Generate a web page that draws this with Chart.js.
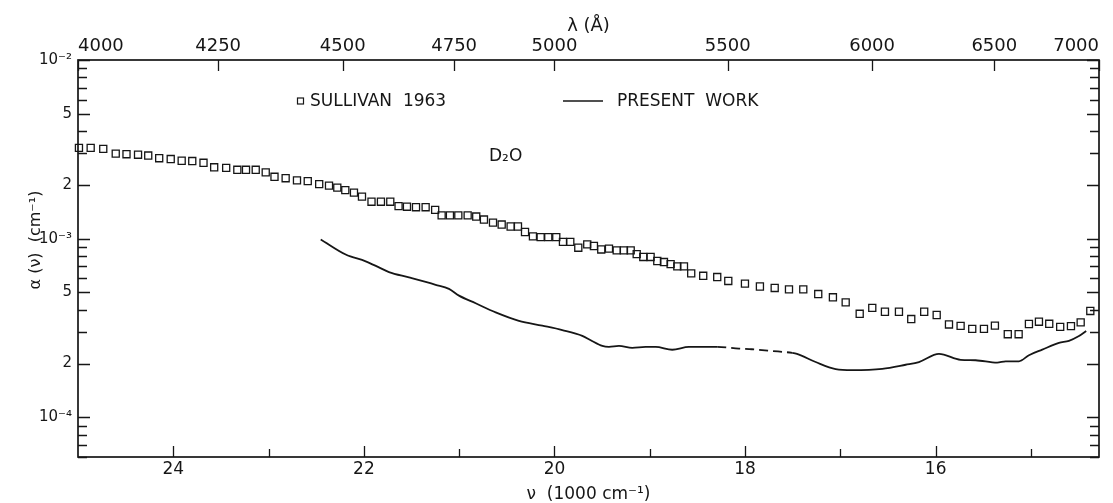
<!DOCTYPE html>
<html>
<head>
<meta charset="utf-8">
<title>D2O absorption coefficient</title>
<script src="https://cdn.jsdelivr.net/npm/chart.js@4.4.1/dist/chart.umd.min.js"></script>
<style>
  html, body { margin: 0; padding: 0; background: #fff; }
  canvas { display: block; }
</style>
</head>
<body>
<canvas id="chart" width="1113" height="503"></canvas>
<script>
// Sullivan (1963): wavenumber (1000 cm^-1) and absorption coefficient (cm^-1)
const sullivanNu = [
  24.99, 24.867, 24.735, 24.604, 24.491, 24.370, 24.263, 24.148, 24.027, 23.912,
  23.801, 23.683, 23.571, 23.445, 23.328, 23.237, 23.135, 23.030, 22.938, 22.821,
  22.702, 22.589, 22.469, 22.366, 22.279, 22.195, 22.104, 22.020, 21.920, 21.821,
  21.723, 21.636, 21.548, 21.453, 21.352, 21.252, 21.184, 21.097, 21.009, 20.911,
  20.821, 20.740, 20.645, 20.554, 20.460, 20.383, 20.309, 20.226, 20.145, 20.065,
  19.981, 19.911, 19.834, 19.750, 19.656, 19.586, 19.509, 19.428, 19.347, 19.271,
  19.200, 19.137, 19.068, 18.991, 18.921, 18.851, 18.781, 18.711, 18.641, 18.565,
  18.439, 18.292, 18.176, 18.001, 17.844, 17.689, 17.539, 17.389, 17.232, 17.078,
  16.944, 16.797, 16.665, 16.532, 16.385, 16.256, 16.120, 15.989, 15.860, 15.738,
  15.616, 15.493, 15.378, 15.243, 15.129, 15.021, 14.916, 14.808, 14.693, 14.580,
  14.478, 14.377
];
const sullivanAlpha = [
  3.22e-3, 3.22e-3, 3.18e-3, 2.99e-3, 2.97e-3, 2.95e-3, 2.92e-3, 2.82e-3, 2.79e-3, 2.73e-3,
  2.72e-3, 2.66e-3, 2.51e-3, 2.49e-3, 2.43e-3, 2.43e-3, 2.43e-3, 2.35e-3, 2.22e-3, 2.18e-3,
  2.12e-3, 2.10e-3, 2.02e-3, 1.98e-3, 1.93e-3, 1.87e-3, 1.81e-3, 1.72e-3, 1.61e-3, 1.61e-3,
  1.61e-3, 1.52e-3, 1.51e-3, 1.50e-3, 1.50e-3, 1.45e-3, 1.35e-3, 1.35e-3, 1.35e-3, 1.35e-3,
  1.33e-3, 1.28e-3, 1.23e-3, 1.20e-3, 1.17e-3, 1.17e-3, 1.09e-3, 1.03e-3, 1.02e-3, 1.02e-3,
  1.02e-3, 0.96e-3, 0.96e-3, 0.89e-3, 0.93e-3, 0.91e-3, 0.87e-3, 0.88e-3, 0.86e-3, 0.86e-3,
  0.86e-3, 0.82e-3, 0.79e-3, 0.79e-3, 0.75e-3, 0.74e-3, 0.72e-3, 0.70e-3, 0.70e-3, 0.64e-3,
  0.62e-3, 0.61e-3, 0.58e-3, 0.56e-3, 0.54e-3, 0.53e-3, 0.52e-3, 0.52e-3, 0.49e-3, 0.47e-3,
  0.44e-3, 0.38e-3, 0.41e-3, 0.39e-3, 0.39e-3, 0.355e-3, 0.39e-3, 0.374e-3, 0.331e-3, 0.325e-3,
  0.313e-3, 0.313e-3, 0.326e-3, 0.292e-3, 0.292e-3, 0.333e-3, 0.343e-3, 0.334e-3, 0.321e-3, 0.324e-3,
  0.340e-3, 0.394e-3
];

// Present measurement
const presentNu = [
  22.453, 22.191, 21.981, 21.842, 21.737, 21.527, 21.247, 21.107, 21.002, 20.827,
  20.617, 20.373, 20.128, 19.918, 19.708, 19.620, 19.498, 19.428, 19.323, 19.184,
  19.043, 18.938, 18.764, 18.589, 18.292, 18.064, 17.928, 17.718, 17.505, 17.455,
  17.259, 17.049, 16.875, 16.560, 16.315, 16.175, 15.965, 15.738, 15.580, 15.354,
  15.265, 15.126, 15.021, 14.881, 14.706, 14.601, 14.496, 14.420
];
const presentAlpha = [
  0.990e-3, 0.815e-3, 0.747e-3, 0.691e-3, 0.650e-3, 0.607e-3, 0.552e-3, 0.524e-3, 0.480e-3, 0.435e-3,
  0.387e-3, 0.347e-3, 0.326e-3, 0.308e-3, 0.286e-3, 0.270e-3, 0.251e-3, 0.248e-3, 0.251e-3, 0.245e-3,
  0.248e-3, 0.248e-3, 0.239e-3, 0.248e-3, 0.248e-3, 0.2425e-3, 0.2406e-3, 0.2353e-3, 0.2294e-3, 0.2265e-3,
  0.204e-3, 0.1864e-3, 0.184e-3, 0.187e-3, 0.197e-3, 0.204e-3, 0.2265e-3, 0.210e-3, 0.2087e-3, 0.2023e-3,
  0.206e-3, 0.206e-3, 0.2227e-3, 0.2394e-3, 0.261e-3, 0.268e-3, 0.285e-3, 0.304e-3
];
// Wavenumber interval (1000 cm^-1) where the measured curve is bridged with a dashed line
const dashedSpan = [18.3, 17.5];

// Axis ticks; wavelength (Å) maps to wavenumber (1000 cm^-1) as 1e5 / λ
const nuTicks = [15, 16, 17, 18, 19, 20, 21, 22, 23, 24];
const nuLabelled = [24, 22, 20, 18, 16];
const lambdaTicks = [4000, 4250, 4500, 4750, 5000, 5500, 6000, 6500, 7000];
const alphaTicks = [
  6e-5, 7e-5, 8e-5, 9e-5,
  1e-4, 2e-4, 3e-4, 4e-4, 5e-4, 6e-4, 7e-4, 8e-4, 9e-4,
  1e-3, 2e-3, 3e-3, 4e-3, 5e-3, 6e-3, 7e-3, 8e-3, 9e-3,
  1e-2
];
const alphaLabelValues = [1e-2, 5e-3, 2e-3, 1e-3, 5e-4, 2e-4, 1e-4];
const alphaLabelText = ['10⁻²', '5', '2', '10⁻³', '5', '2', '10⁻⁴'];

const NU_MIN = 1e5 / 7000;
const NU_MAX = 25;
const INK = '#161616';
const FONT = "'DejaVu Sans', 'Liberation Sans', sans-serif";
Chart.defaults.font.family = FONT;
Chart.defaults.color = INK;

const sullivanPoints = sullivanNu.map((x, i) => ({ x, y: sullivanAlpha[i] }));
const presentPoints = presentNu.map((x, i) => ({ x, y: presentAlpha[i] }));

const inDashedSpan = ctx =>
  ctx.p0.parsed.x <= dashedSpan[0] && ctx.p1.parsed.x >= dashedSpan[1];

// White page, boxed frame with inward tick marks, legend and sample label
const framePlugin = {
  id: 'frameAndLegend',
  beforeDraw(chart) {
    const { ctx, width, height } = chart;
    ctx.save();
    ctx.fillStyle = '#fff';
    ctx.fillRect(0, 0, width, height);
    ctx.restore();
  },
  afterDraw(chart) {
    const { ctx, chartArea: a, scales } = chart;
    ctx.save();
    ctx.strokeStyle = INK;
    ctx.fillStyle = INK;

    ctx.lineWidth = 1.7;
    ctx.strokeRect(a.left, a.top, a.right - a.left, a.bottom - a.top);

    ctx.lineWidth = 1.3;
    ctx.beginPath();
    scales.x.ticks.forEach(t => {
      const px = Math.round(scales.x.getPixelForValue(t.value)) + 0.5;
      const len = t.label ? 11 : 8;
      ctx.moveTo(px, a.bottom);
      ctx.lineTo(px, a.bottom - len);
    });
    scales.x2.ticks.forEach(t => {
      const px = Math.round(scales.x2.getPixelForValue(t.value)) + 0.5;
      ctx.moveTo(px, a.top);
      ctx.lineTo(px, a.top + 11);
    });
    scales.y.ticks.forEach(t => {
      const py = Math.round(scales.y.getPixelForValue(t.value)) + 0.5;
      const len = t.label ? 12 : 9;
      ctx.moveTo(a.left, py);
      ctx.lineTo(a.left + len, py);
      ctx.moveTo(a.right, py);
      ctx.lineTo(a.right - len, py);
    });
    ctx.stroke();

    // legend
    ctx.font = '17px ' + FONT;
    ctx.textBaseline = 'middle';
    ctx.textAlign = 'left';
    ctx.lineWidth = 1.2;
    ctx.strokeRect(297.5, 98, 6, 6);
    ctx.fillText('SULLIVAN  1963', 310, 102);
    ctx.lineWidth = 1.6;
    ctx.beginPath();
    ctx.moveTo(563, 101);
    ctx.lineTo(603, 101);
    ctx.stroke();
    ctx.fillText('PRESENT  WORK', 617, 102);

    // sample label
    ctx.fillText('D₂O', 489, 157);

    // vertical axis title
    ctx.save();
    ctx.translate(36, 240);
    ctx.rotate(-Math.PI / 2);
    ctx.textAlign = 'center';
    ctx.font = '16px ' + FONT;
    ctx.fillText('α (ν)  (cm⁻¹)', 0, 0);
    ctx.restore();

    ctx.restore();
  }
};

new Chart(document.getElementById('chart'), {
  type: 'scatter',
  data: {
    datasets: [
      {
        label: 'SULLIVAN 1963',
        data: sullivanPoints,
        pointStyle: 'rect',
        pointRadius: 5,
        pointBorderWidth: 1.3,
        pointBorderColor: INK,
        pointBackgroundColor: 'rgba(255,255,255,0)',
        showLine: false,
        clip: false
      },
      {
        label: 'PRESENT WORK',
        data: presentPoints,
        showLine: true,
        pointRadius: 0,
        borderColor: INK,
        borderWidth: 1.8,
        cubicInterpolationMode: 'monotone',
        segment: {
          borderDash: ctx => (inDashedSpan(ctx) ? [9, 5] : undefined)
        }
      }
    ]
  },
  options: {
    responsive: false,
    animation: false,
    events: [],
    layout: { padding: { left: 0, right: 14, top: 0, bottom: 0 } },
    plugins: {
      legend: { display: false },
      tooltip: { enabled: false }
    },
    scales: {
      x: {
        type: 'linear',
        position: 'bottom',
        reverse: true,
        min: NU_MIN,
        max: NU_MAX,
        border: { display: false },
        grid: { display: false, drawTicks: false },
        afterBuildTicks: s => { s.ticks = nuTicks.map(v => ({ value: v })); },
        afterFit: s => { s.height = 46; },
        ticks: {
          autoSkip: false,
          maxRotation: 0,
          padding: 2,
          font: { size: 17 },
          color: INK,
          callback: v => (nuLabelled.includes(v) ? String(v) : '')
        },
        title: {
          display: true,
          text: 'ν  (1000 cm⁻¹)',
          color: INK,
          font: { size: 17, lineHeight: 1 },
          padding: { top: 0, bottom: 0 }
        }
      },
      x2: {
        type: 'linear',
        position: 'top',
        reverse: true,
        min: NU_MIN,
        max: NU_MAX,
        border: { display: false },
        grid: { display: false, drawTicks: false },
        // ascending wavenumber order (longest wavelength first)
        afterBuildTicks: s => {
          s.ticks = lambdaTicks.slice().reverse().map(l => ({ value: 1e5 / l }));
        },
        afterFit: s => { s.height = 60; },
        ticks: {
          autoSkip: false,
          maxRotation: 0,
          align: 'inner',
          padding: 3,
          font: { size: 18 },
          color: INK,
          callback: v => String(Math.round(1e5 / v))
        },
        title: {
          display: true,
          text: 'λ (Å)',
          color: INK,
          font: { size: 18, lineHeight: 1 },
          padding: { top: 17, bottom: 0 }
        }
      },
      y: {
        type: 'logarithmic',
        position: 'left',
        min: 6e-5,
        max: 1e-2,
        border: { display: false },
        grid: { display: false, drawTicks: false },
        afterBuildTicks: s => { s.ticks = alphaTicks.map(v => ({ value: v })); },
        afterFit: s => { s.width = 78; },
        ticks: {
          autoSkip: false,
          padding: 6,
          font: { size: 15 },
          color: INK,
          callback: v => {
            const i = alphaLabelValues.findIndex(a => Math.abs(a / v - 1) < 1e-6);
            return i >= 0 ? alphaLabelText[i] : '';
          }
        }
      }
    }
  },
  plugins: [framePlugin]
});
</script>
</body>
</html>
